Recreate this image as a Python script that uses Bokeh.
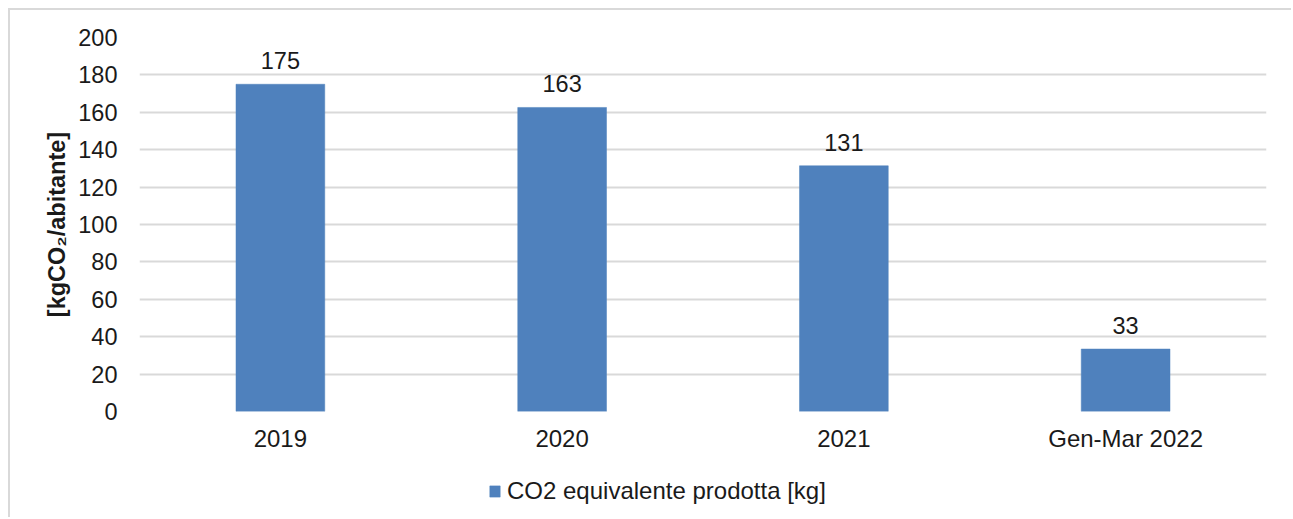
from bokeh.plotting import figure
from bokeh.layouts import column
from bokeh.models import (ColumnDataSource, FactorRange, Range1d, Legend, LegendItem,
                          FixedTicker, LabelSet)
from bokeh.embed import file_html
from bokeh.resources import INLINE
from bokeh.core.properties import value

categories = ["2019", "2020", "2021", "Gen-Mar 2022"]
co2_values = [175.0, 162.6, 131.4, 33.4]
bar_labels = ["175", "163", "131", "33"]
y_ticks = [0, 20, 40, 60, 80, 100, 120, 140, 160, 180, 200]
series_name = "CO2 equivalente prodotta [kg]"
y_title = "[kgCO\u2082/abitante]"

FONT = "Liberation Sans"
TXT = "#1a1a1a"
BAR = "#4f81bd"
FRAME = "2px solid #d9d9d9"

src = ColumnDataSource(dict(cat=categories, val=co2_values, lbl=bar_labels))

p = figure(
    x_range=FactorRange(*categories, range_padding=0),
    y_range=Range1d(0, 200),
    width=1283, height=456,
    output_backend="svg", toolbar_location=None,
    min_border_left=129, min_border_right=27,
    min_border_top=27, min_border_bottom=55,
)
p.styles = {"border-left": FRAME, "border-top": FRAME}
p.outline_line_color = None

r = p.vbar(x="cat", top="val", width=0.315, source=src,
           fill_color=BAR, line_color=BAR, line_width=0.5)

labels = LabelSet(x="cat", y="val", text="lbl", source=src, y_offset=15,
                  text_align="center", text_baseline="alphabetic",
                  text_font=value(FONT), text_font_size=value("23.5px"),
                  text_color=value(TXT))
p.add_layout(labels)

p.xgrid.grid_line_color = None
p.ygrid.ticker = FixedTicker(ticks=y_ticks)
p.ygrid.grid_line_color = "#d9d9d9"
p.ygrid.grid_line_width = 2

p.yaxis.ticker = FixedTicker(ticks=y_ticks)
p.yaxis.axis_line_color = None
p.yaxis.major_tick_line_color = None
p.yaxis.minor_tick_line_color = None
p.yaxis.major_label_standoff = 16
p.yaxis.major_label_text_font = FONT
p.yaxis.major_label_text_font_size = "23.5px"
p.yaxis.major_label_text_color = TXT
p.yaxis.axis_label = y_title
p.yaxis.axis_label_text_font = FONT
p.yaxis.axis_label_text_font_style = "bold"
p.yaxis.axis_label_text_font_size = "23.5px"
p.yaxis.axis_label_text_color = TXT
p.yaxis.axis_label_standoff = 5

p.xaxis.axis_line_color = None
p.xaxis.major_tick_line_color = None
p.xaxis.minor_tick_line_color = None
p.xaxis.major_label_standoff = 7
p.xaxis.major_label_text_font = FONT
p.xaxis.major_label_text_font_size = "24px"
p.xaxis.major_label_text_color = TXT

# legend strip below the chart (its frame is aligned with the chart frame)
p2 = figure(
    x_range=FactorRange(*categories, range_padding=0),
    y_range=Range1d(1000, 2000),
    width=1283, height=53,
    output_backend="svg", toolbar_location=None,
    min_border=0,
)
p2.styles = {"border-left": FRAME}
p2.outline_line_color = None
p2.xaxis.visible = False
p2.yaxis.visible = False
p2.grid.grid_line_color = None
r2 = p2.vbar(x="cat", top="val", width=0.315, source=src,
             fill_color=BAR, line_color=BAR, line_width=0.5)

legend = Legend(
    items=[LegendItem(label=series_name, renderers=[r2])],
    location=(349, 12), orientation="horizontal",
    border_line_color=None, background_fill_alpha=0,
    label_text_font=FONT, label_text_font_size="24px", label_text_color=TXT,
    glyph_width=13, glyph_height=14, label_standoff=6,
    padding=0, margin=0, spacing=0,
)
p2.add_layout(legend)

layout = column(p, p2, spacing=0)
layout.styles = {"margin-left": "8px", "margin-top": "8px"}

open("out.html", "w").write(file_html(layout, INLINE))
